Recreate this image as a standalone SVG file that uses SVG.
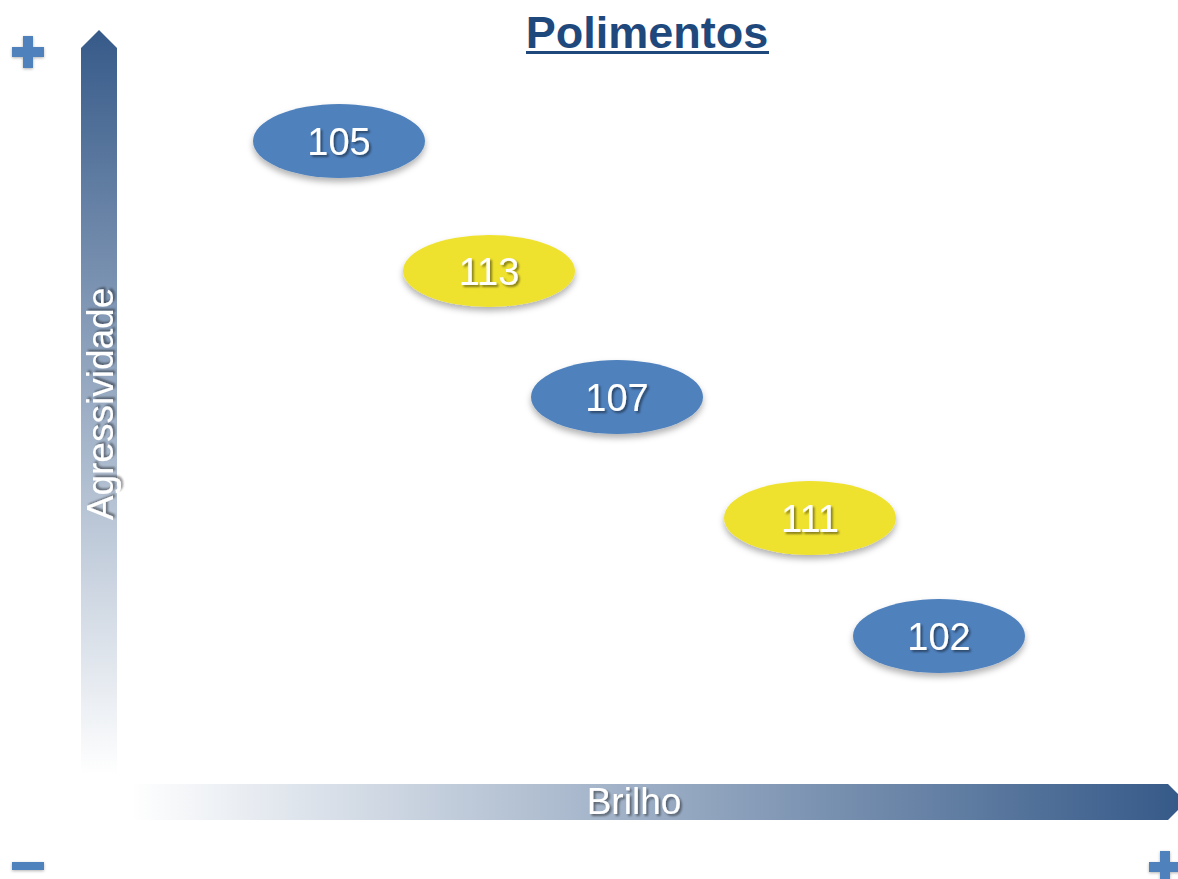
<svg xmlns="http://www.w3.org/2000/svg" width="1178" height="879" viewBox="0 0 1178 879">
  <defs>
    <linearGradient id="gV" x1="0" y1="30" x2="0" y2="775" gradientUnits="userSpaceOnUse">
      <stop offset="0" stop-color="#365A89"/>
      <stop offset="1" stop-color="#FFFFFF"/>
    </linearGradient>
    <linearGradient id="gH" x1="130" y1="0" x2="1178" y2="0" gradientUnits="userSpaceOnUse">
      <stop offset="0" stop-color="#FFFFFF"/>
      <stop offset="1" stop-color="#365A89"/>
    </linearGradient>
    <filter id="shE" x="-20%" y="-30%" width="140%" height="170%">
      <feDropShadow dx="0" dy="4" stdDeviation="3" flood-color="#000" flood-opacity="0.3"/>
    </filter>
    <filter id="shT" x="-10%" y="-20%" width="130%" height="150%">
      <feDropShadow dx="2" dy="2" stdDeviation="1" flood-color="#000" flood-opacity="0.45"/>
    </filter>
    <filter id="shP" x="-40%" y="-40%" width="180%" height="180%">
      <feDropShadow dx="0" dy="1" stdDeviation="1.5" flood-color="#000" flood-opacity="0.3"/>
    </filter>
  </defs>
  <style>
    .lbl { font-family: "Liberation Sans", Arial, sans-serif; fill: #FFFFFF; text-anchor: middle; }
    .num { font-size: 38px; }
    .axis { font-size: 37px; }
    .blue { fill: #4F81BD; }
    .yellow { fill: #EFE22F; }
    .sign { fill: #4F81BD; }
  </style>
  <rect width="1178" height="879" fill="#FFFFFF"/>

  <g id="title">
    <text x="647" y="48" font-family="'Liberation Sans', Arial, sans-serif" font-size="45" font-weight="bold" fill="#1F497D" text-anchor="middle">Polimentos</text>
    <rect x="526" y="51" width="243" height="3" fill="#1F497D"/>
  </g>

  <g id="axes">
    <g id="axis-y">
      <path d="M81 48 L99 30 L117 48 L117 775 L81 775 Z" fill="url(#gV)"/>
      <text class="lbl axis" filter="url(#shT)" transform="translate(113 404) rotate(-90)" x="0" y="0">Agressividade</text>
    </g>
    <g id="axis-x">
      <path d="M130 784 L1168 784 L1178 794 L1178 810 L1168 820 L130 820 Z" fill="url(#gH)"/>
      <text class="lbl axis" filter="url(#shT)" x="634" y="814">Brilho</text>
    </g>
  </g>

  <g id="signs">
    <path class="sign" filter="url(#shP)" d="M23 36 H33 V47 H44 V57 H33 V68 H23 V57 H12 V47 H23 Z"/>
    <rect class="sign" filter="url(#shP)" x="12" y="862" width="32" height="8"/>
    <path class="sign" filter="url(#shP)" d="M1160 851 H1170 V862 H1181 V872 H1170 V883 H1160 V872 H1149 V862 H1160 Z"/>
  </g>

  <g id="node-105">
    <ellipse class="blue" filter="url(#shE)" cx="339" cy="141" rx="86" ry="37"/>
    <text class="lbl num" filter="url(#shT)" x="339" y="155">105</text>
  </g>
  <g id="node-113">
    <ellipse class="yellow" filter="url(#shE)" cx="489" cy="271" rx="86" ry="36"/>
    <text class="lbl num" filter="url(#shT)" x="489" y="285">113</text>
  </g>
  <g id="node-107">
    <ellipse class="blue" filter="url(#shE)" cx="617" cy="397" rx="86" ry="37"/>
    <text class="lbl num" filter="url(#shT)" x="617" y="411">107</text>
  </g>
  <g id="node-111">
    <ellipse class="yellow" filter="url(#shE)" cx="810" cy="518" rx="86" ry="37"/>
    <text class="lbl num" filter="url(#shT)" x="810" y="532">111</text>
  </g>
  <g id="node-102">
    <ellipse class="blue" filter="url(#shE)" cx="939" cy="636" rx="86" ry="37"/>
    <text class="lbl num" filter="url(#shT)" x="939" y="650">102</text>
  </g>

  <g id="connectors"></g>
</svg>
